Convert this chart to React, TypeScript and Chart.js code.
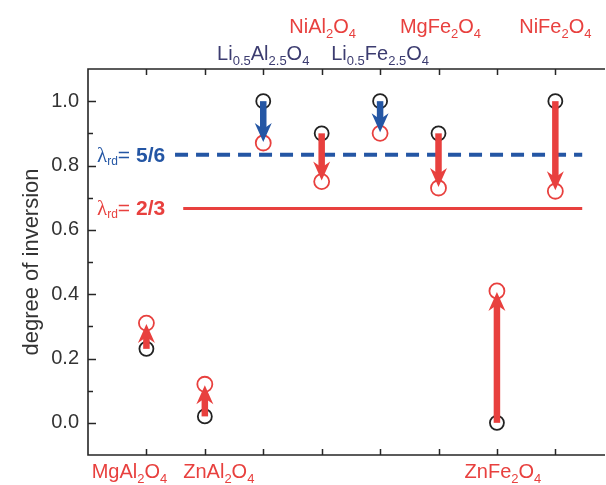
import React, { useEffect, useRef } from "react";
import { Chart, registerables } from "chart.js";

Chart.register(...registerables);

// ---- data ----
const categories = [
  "MgAl_2O_4",
  "ZnAl_2O_4",
  "Li_{0.5}Al_{2.5}O_4",
  "NiAl_2O_4",
  "Li_{0.5}Fe_{2.5}O_4",
  "MgFe_2O_4",
  "ZnFe_2O_4",
  "NiFe_2O_4",
];
const labelRows = ["bottom", "bottom", "top2", "top1", "top2", "top1", "bottom", "top1"];
const labelGroups = ["red", "red", "navy", "red", "navy", "red", "red", "red"];
const initialInversion = [0.23, 0.02, 1.0, 0.9, 1.0, 0.9, 0.0, 1.0];
const finalInversion = [0.31, 0.12, 0.87, 0.75, 0.9, 0.73, 0.41, 0.72];
const arrowGroups = ["red", "red", "blue", "red", "blue", "red", "red", "red"];
const yTicks = [0, 0.2, 0.4, 0.6, 0.8, 1.0];
const yMinorTicks = [0.1, 0.3, 0.5, 0.7, 0.9];
const lambdaValues = [5 / 6, 2 / 3];
const lambdaLabels = ["5/6", "2/3"];
const lambdaGroups = ["blue", "red"];

// ---- style ----
const FONT = "'Liberation Sans', Arial, Helvetica, sans-serif";
const COLORS: Record<string, string> = {
  red: "#e8403e",
  blue: "#2456a4",
  navy: "#3c3c70",
};
const AXIS = "#262626";
// horizontal nudges (px) of the category labels relative to their tick
const LABEL_NUDGE = [-17, 14, 0, 1, 0, 2, 6, 0];

type Seg = { t: string; sub: boolean; bold?: boolean; serif?: boolean };

function parseFormula(s: string): Seg[] {
  const segs: Seg[] = [];
  let i = 0;
  let buf = "";
  while (i < s.length) {
    if (s[i] === "_") {
      if (buf) {
        segs.push({ t: buf, sub: false });
        buf = "";
      }
      i++;
      if (s[i] === "{") {
        const j = s.indexOf("}", i);
        segs.push({ t: s.slice(i + 1, j), sub: true });
        i = j + 1;
      } else {
        segs.push({ t: s[i], sub: true });
        i++;
      }
    } else {
      buf += s[i];
      i++;
    }
  }
  if (buf) segs.push({ t: buf, sub: false });
  return segs;
}

function segFont(seg: Seg, mainSize: number, subSize: number) {
  const size = seg.sub ? subSize : mainSize;
  const fam = seg.serif ? "'Liberation Serif', 'DejaVu Serif', serif" : FONT;
  return `${seg.bold ? "bold " : ""}${size}px ${fam}`;
}

function drawRich(
  ctx: CanvasRenderingContext2D,
  segs: Seg[],
  x: number,
  y: number,
  align: "center" | "left",
  color: string,
  mainSize = 20,
  subSize = 13,
  subShift = 5
) {
  ctx.save();
  ctx.textBaseline = "alphabetic";
  ctx.textAlign = "left";
  ctx.fillStyle = color;
  const widths = segs.map((s) => {
    ctx.font = segFont(s, mainSize, subSize);
    return ctx.measureText(s.t).width;
  });
  const total = widths.reduce((a, b) => a + b, 0);
  let cx = align === "center" ? x - total / 2 : x;
  segs.forEach((s, k) => {
    ctx.font = segFont(s, mainSize, subSize);
    ctx.fillText(s.t, cx, s.sub ? y + subShift : y);
    cx += widths[k];
  });
  ctx.restore();
}

const decorPlugin = {
  id: "decor",
  beforeDatasetsDraw(chart: any) {
    const ctx: CanvasRenderingContext2D = chart.ctx;
    const { left, right, top, bottom } = chart.chartArea;
    const xs = chart.scales.x;
    const ys = chart.scales.y;
    ctx.save();
    // frame (left, top, bottom)
    ctx.strokeStyle = AXIS;
    ctx.lineWidth = 1.6;
    ctx.beginPath();
    ctx.moveTo(right, top);
    ctx.lineTo(left, top);
    ctx.lineTo(left, bottom);
    ctx.lineTo(right, bottom);
    ctx.stroke();
    // y ticks (inward)
    ctx.lineWidth = 1.5;
    yTicks.forEach((v) => {
      const py = Math.round(ys.getPixelForValue(v)) + 0.5;
      ctx.beginPath();
      ctx.moveTo(left, py);
      ctx.lineTo(left + 8, py);
      ctx.stroke();
    });
    yMinorTicks.forEach((v) => {
      const py = Math.round(ys.getPixelForValue(v)) + 0.5;
      ctx.beginPath();
      ctx.moveTo(left, py);
      ctx.lineTo(left + 5, py);
      ctx.stroke();
    });
    // x ticks (inward, top and bottom)
    categories.forEach((_, i) => {
      const px = Math.round(xs.getPixelForValue(i + 1)) + 0.5;
      ctx.beginPath();
      ctx.moveTo(px, top);
      ctx.lineTo(px, top + 6);
      ctx.moveTo(px, bottom);
      ctx.lineTo(px, bottom - 6);
      ctx.stroke();
    });
    // category labels
    categories.forEach((c, i) => {
      const px = xs.getPixelForValue(i + 1) + LABEL_NUDGE[i];
      const row = labelRows[i];
      const py = row === "top1" ? top - 36 : row === "top2" ? top - 9 : bottom + 23;
      drawRich(ctx, parseFormula(c), px, py, "center", COLORS[labelGroups[i]]);
    });
    // lambda reference lines
    const lineStart = [1.49, 1.63];
    const lineEnd = 8.46;
    lambdaValues.forEach((v, k) => {
      const py = ys.getPixelForValue(v);
      const col = COLORS[lambdaGroups[k]];
      ctx.save();
      ctx.strokeStyle = col;
      if (k === 0) {
        ctx.lineWidth = 4;
        ctx.setLineDash([13, 8]);
      } else {
        ctx.lineWidth = 3;
      }
      ctx.beginPath();
      ctx.moveTo(xs.getPixelForValue(lineStart[k]), py);
      ctx.lineTo(xs.getPixelForValue(lineEnd), py);
      ctx.stroke();
      ctx.restore();
      drawRich(
        ctx,
        [
          { t: "λ", sub: false, serif: true },
          { t: "rd", sub: true },
          { t: "= ", sub: false },
          { t: lambdaLabels[k], sub: false, bold: true },
        ],
        left + 9,
        py + 7,
        "left",
        col,
        21,
        12,
        3
      );
    });
    ctx.restore();
  },
  afterDatasetsDraw(chart: any) {
    const ctx: CanvasRenderingContext2D = chart.ctx;
    const xs = chart.scales.x;
    const ys = chart.scales.y;
    ctx.save();
    initialInversion.forEach((v0, i) => {
      const v1 = finalInversion[i];
      const px = xs.getPixelForValue(i + 1);
      const y0 = ys.getPixelForValue(v0);
      const y1 = ys.getPixelForValue(v1);
      const dir = y1 > y0 ? 1 : -1;
      const tip = y1 - dir * 1;
      const col = COLORS[arrowGroups[i]];
      const headLen = 19;
      const headW = 8.5;
      ctx.strokeStyle = col;
      ctx.fillStyle = col;
      ctx.lineWidth = 6.5;
      ctx.lineCap = "butt";
      ctx.beginPath();
      ctx.moveTo(px, y0);
      ctx.lineTo(px, tip - dir * 12);
      ctx.stroke();
      ctx.beginPath();
      ctx.moveTo(px, tip);
      ctx.lineTo(px + headW, tip - dir * headLen);
      ctx.lineTo(px, tip - dir * 13);
      ctx.lineTo(px - headW, tip - dir * headLen);
      ctx.closePath();
      ctx.fill();
    });
    ctx.restore();
  },
};

export default function App() {
  const ref = useRef<HTMLCanvasElement | null>(null);
  useEffect(() => {
    if (!ref.current) return;
    const chart = new Chart(ref.current, {
      type: "scatter",
      data: {
        datasets: [
          {
            data: initialInversion.map((y, i) => ({ x: i + 1, y })),
            pointRadius: 7,
            pointHoverRadius: 7,
            borderColor: "#222222",
            borderWidth: 1.8,
            backgroundColor: "rgba(0,0,0,0)",
            showLine: false,
          },
          {
            data: finalInversion.map((y, i) => ({ x: i + 1, y })),
            pointRadius: 7.5,
            pointHoverRadius: 7.5,
            borderColor: "#e8403e",
            borderWidth: 1.8,
            backgroundColor: "rgba(0,0,0,0)",
            showLine: false,
          },
        ],
      },
      options: {
        animation: false,
        responsive: false,
        events: [],
        layout: { autoPadding: false, padding: { top: 69, bottom: 30, left: 0, right: 1 } },
        plugins: { legend: { display: false }, tooltip: { enabled: false } },
        scales: {
          x: { type: "linear", min: 0, max: 8.85, display: false },
          y: {
            type: "linear",
            min: -0.1,
            max: 1.1,
            afterBuildTicks: (s: any) => {
              s.ticks = yTicks.map((v) => ({ value: v }));
            },
            afterFit: (s: any) => {
              s.width = 88;
            },
            grid: { display: false, drawTicks: false },
            border: { display: false },
            ticks: {
              padding: 9,
              color: "#333333",
              font: { size: 20, family: FONT },
              callback: (v: any) => Number(v).toFixed(1),
            },
            title: {
              display: true,
              text: "degree of inversion",
              color: "#333333",
              font: { size: 22, family: FONT },
              padding: { top: 19, bottom: 0 },
            },
          },
        },
      },
      plugins: [decorPlugin],
    });
    return () => chart.destroy();
  }, []);
  return (
    <div style={{ position: "absolute", left: 0, top: 0, width: 606, height: 485, background: "#fff" }}>
      <canvas ref={ref} width={606} height={485} style={{ width: 606, height: 485 }} />
    </div>
  );
}
